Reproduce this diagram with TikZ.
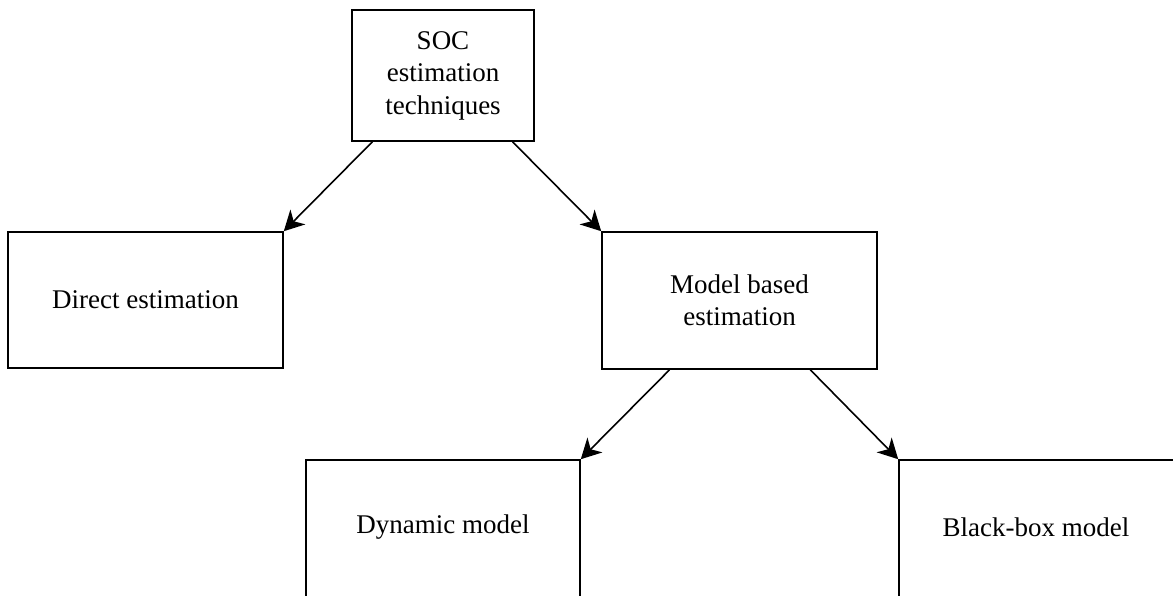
\documentclass[tikz,border=0pt]{standalone}
\usepackage{fontspec}
\setmainfont{Liberation Serif}
\usetikzlibrary{arrows.meta,calc}
\begin{document}
\begin{tikzpicture}[x=1pt,y=-1pt,
  box/.style={draw,line width=1.6pt,rectangle,inner sep=0pt,align=center,font=\fontsize{27}{32.5}\selectfont},
  conn/.style={line width=1.6pt,-{Stealth[length=20pt,width=21pt,inset=6pt]}}]
\path[use as bounding box] (0,0) rectangle (1173,595);
\clip (0,0) rectangle (1173,595);
\fill[white] (0,0) rectangle (1173,595);
\node[box,minimum width=182pt,minimum height=131pt] (soc) at (443,75.5) {SOC\\estimation\\techniques};
\node[box,minimum width=275pt,minimum height=136pt] (direct) at (145.5,300) {Direct estimation};
\node[box,minimum width=275pt,minimum height=137pt] (model) at (739.5,300.5) {Model based\\estimation};
\node[box,minimum width=274pt,minimum height=150pt] (dyn) at (443,535) {};
\node[font=\fontsize{27}{32.5}\selectfont] (dyntext) at (443,527) {Dynamic model};
\node[box,minimum width=276pt,minimum height=150pt] (bb) at (1037,535) {};
\node[font=\fontsize{27}{32.5}\selectfont] (bbtext) at (1036,527) {Black-box model};
\draw[conn] ($(soc.south west)!0.115!(soc.south east)$) -- (direct.north east);
\draw[conn] ($(soc.south west)!0.879!(soc.south east)$) -- (model.north west);
\draw[conn] ($(model.south west)!0.247!(model.south east)$) -- (dyn.north east);
\draw[conn] ($(model.south west)!0.756!(model.south east)$) -- (bb.north west);
\end{tikzpicture}
\end{document}
